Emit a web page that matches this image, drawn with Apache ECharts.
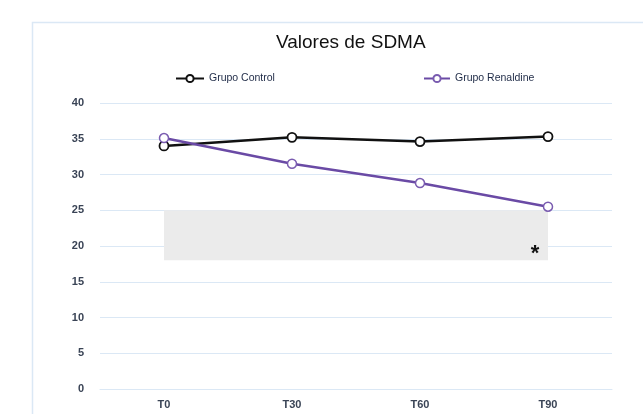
<!DOCTYPE html>
<html><head><meta charset="utf-8">
<script src="https://cdn.jsdelivr.net/npm/echarts@6/dist/echarts.min.js"></script>
<style>html,body{margin:0;padding:0;background:#fff}#c{width:643px;height:414px}</style>
</head><body><div id="c"></div>
<script>
const categories = ['T0', 'T30', 'T60', 'T90'];
const grupoControl = [34.0, 35.2, 34.6, 35.3];
const grupoRenaldine = [35.1, 31.5, 28.8, 25.5];
const yTicks = { min: 0, max: 40, interval: 5 };
const shadedRange = { from: 'T0', to: 'T90', low: 18, high: 25 };
const asteriskAt = { x: 'T90', y: 19.3, text: '*' };

const chart = echarts.init(document.getElementById('c'), null, { renderer: 'canvas' });
const axisFont = { fontFamily: 'Liberation Sans, Arial', fontSize: 11, fontWeight: 'bold', color: '#3a4456' };
const legendText = { fontFamily: 'Liberation Sans, Arial', fontSize: 10.5, color: '#1e2a46' };
chart.setOption({
  animation: false,
  backgroundColor: '#fff',
  graphic: [{
    type: 'rect', left: 30, top: 20, z: -10,
    shape: { width: 640, height: 420 },
    style: { fill: 'none', stroke: '#dbe8f5', lineWidth: 1.5 }
  }],
  title: {
    text: 'Valores de SDMA', left: 276, top: 33, padding: 0,
    textStyle: { fontFamily: 'Liberation Sans, Arial', fontSize: 19, fontWeight: 'normal', color: '#111' }
  },
  legend: [
    { data: ['Grupo Control'], left: 175, top: 73, padding: 0, itemWidth: 28, itemHeight: 9, itemGap: 4,
      textStyle: legendText },
    { data: ['Grupo Renaldine'], left: 423, top: 73, padding: 0, itemWidth: 26, itemHeight: 9, itemGap: 4,
      textStyle: legendText }
  ],
  grid: { left: 100, right: 31, top: 103, bottom: 25, containLabel: false },
  xAxis: {
    type: 'category', data: categories, boundaryGap: true,
    axisLine: { show: true, lineStyle: { color: '#dbe8f5', width: 1 } },
    axisTick: { show: false },
    axisLabel: Object.assign({ margin: 10 }, axisFont)
  },
  yAxis: {
    type: 'value', min: yTicks.min, max: yTicks.max, interval: yTicks.interval,
    axisLine: { show: false }, axisTick: { show: false },
    splitLine: { lineStyle: { color: '#dbe8f5', width: 1 } },
    axisLabel: Object.assign({ margin: 16 }, axisFont)
  },
  series: [
    {
      name: 'Grupo Control', type: 'line', data: grupoControl,
      symbol: 'circle', symbolSize: 9, z: 3,
      lineStyle: { color: '#111', width: 2.5 },
      itemStyle: { color: '#fff', borderColor: '#111', borderWidth: 1.8 },
      markArea: {
        silent: true,
        itemStyle: { color: '#ebebeb' },
        data: [[{ xAxis: shadedRange.from, yAxis: shadedRange.high }, { xAxis: shadedRange.to, yAxis: shadedRange.low }]]
      },
      markPoint: {
        symbol: 'circle', symbolSize: 1, itemStyle: { color: 'rgba(0,0,0,0)' },
        label: { show: true, formatter: asteriskAt.text, offset: [-13, 3], fontSize: 22, fontWeight: 'bold', color: '#111', fontFamily: 'Liberation Sans, Arial' },
        data: [{ coord: [asteriskAt.x, asteriskAt.y] }]
      }
    },
    {
      name: 'Grupo Renaldine', type: 'line', data: grupoRenaldine,
      symbol: 'circle', symbolSize: 9, z: 4,
      lineStyle: { color: '#6a4aa5', width: 2.5 },
      itemStyle: { color: '#fff', borderColor: '#7a5cb0', borderWidth: 1.5 }
    }
  ]
});
</script></body></html>
